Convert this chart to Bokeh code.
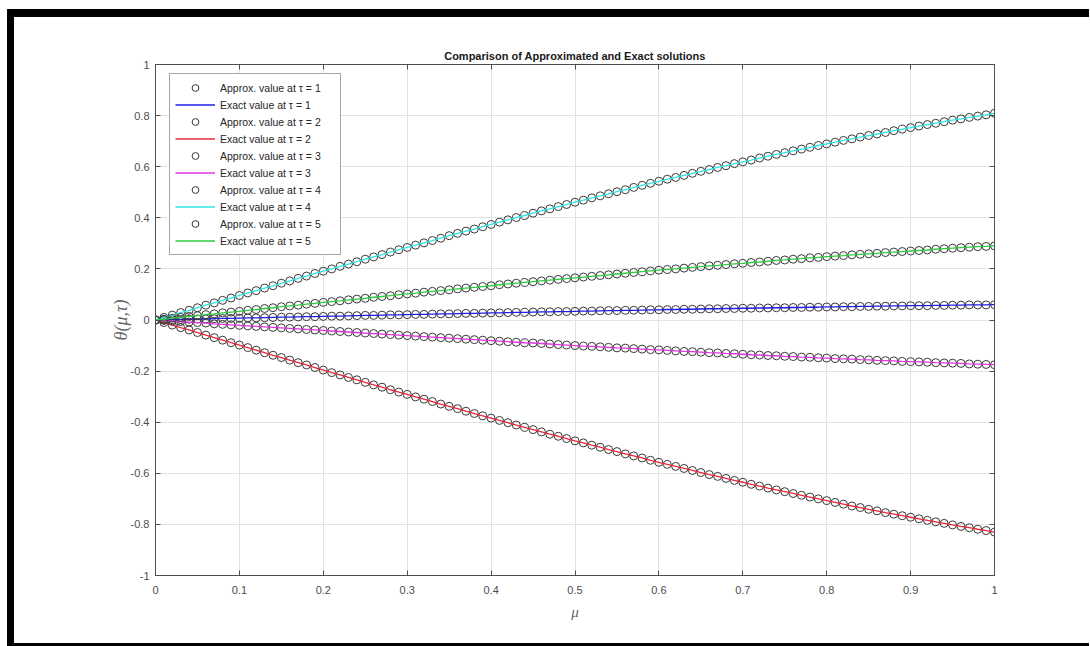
from bokeh.plotting import figure
from bokeh.models import (Range1d, FixedTicker, LinearAxis, Legend, LegendItem,
                          CustomJSTickFormatter, Div)
from bokeh.layouts import column, row
from bokeh.embed import file_html
from bokeh.resources import INLINE

# ---------------- data ----------------
mu = [i / 100 for i in range(101)]

theta_tau1 = [0, 0.001, 0.001, 0.002, 0.003, 0.004, 0.004, 0.005, 0.006, 0.006,
              0.007, 0.008, 0.008, 0.009, 0.010, 0.011, 0.011, 0.012, 0.013, 0.013,
              0.014, 0.015, 0.015, 0.016, 0.017, 0.018, 0.018, 0.019, 0.020, 0.020,
              0.021, 0.022, 0.022, 0.023, 0.024, 0.024, 0.025, 0.026, 0.026, 0.027,
              0.028, 0.028, 0.029, 0.030, 0.030, 0.031, 0.032, 0.032, 0.033, 0.033,
              0.034, 0.035, 0.035, 0.036, 0.037, 0.037, 0.038, 0.038, 0.039, 0.040,
              0.040, 0.041, 0.041, 0.042, 0.042, 0.043, 0.044, 0.044, 0.045, 0.045,
              0.046, 0.046, 0.047, 0.047, 0.048, 0.048, 0.049, 0.049, 0.050, 0.050,
              0.051, 0.051, 0.052, 0.052, 0.053, 0.053, 0.054, 0.054, 0.055, 0.055,
              0.056, 0.056, 0.056, 0.057, 0.057, 0.058, 0.058, 0.059, 0.059, 0.059,
              0.060]

theta_tau2 = [0, -0.010, -0.020, -0.030, -0.039, -0.049, -0.059, -0.069, -0.079, -0.089,
              -0.098, -0.108, -0.118, -0.128, -0.138, -0.147, -0.157, -0.167, -0.176, -0.186,
              -0.196, -0.206, -0.215, -0.225, -0.234, -0.244, -0.254, -0.263, -0.273, -0.282,
              -0.291, -0.301, -0.310, -0.319, -0.329, -0.338, -0.347, -0.357, -0.366, -0.375,
              -0.384, -0.393, -0.402, -0.411, -0.420, -0.429, -0.438, -0.447, -0.455, -0.464,
              -0.473, -0.481, -0.490, -0.498, -0.507, -0.515, -0.524, -0.532, -0.540, -0.549,
              -0.557, -0.565, -0.573, -0.581, -0.589, -0.597, -0.605, -0.612, -0.620, -0.628,
              -0.635, -0.643, -0.650, -0.658, -0.665, -0.672, -0.679, -0.686, -0.693, -0.700,
              -0.707, -0.714, -0.721, -0.728, -0.734, -0.741, -0.747, -0.754, -0.760, -0.766,
              -0.772, -0.778, -0.784, -0.790, -0.796, -0.802, -0.808, -0.813, -0.819, -0.824,
              -0.830]

theta_tau3 = [0, -0.002, -0.004, -0.006, -0.008, -0.010, -0.012, -0.015, -0.017, -0.019,
              -0.021, -0.023, -0.025, -0.027, -0.029, -0.031, -0.033, -0.035, -0.037, -0.039,
              -0.041, -0.043, -0.045, -0.047, -0.049, -0.051, -0.053, -0.055, -0.057, -0.059,
              -0.061, -0.063, -0.065, -0.067, -0.069, -0.071, -0.073, -0.075, -0.077, -0.079,
              -0.081, -0.083, -0.085, -0.087, -0.089, -0.090, -0.092, -0.094, -0.096, -0.098,
              -0.100, -0.102, -0.103, -0.105, -0.107, -0.109, -0.110, -0.112, -0.114, -0.116,
              -0.117, -0.119, -0.121, -0.123, -0.124, -0.126, -0.128, -0.129, -0.131, -0.132,
              -0.134, -0.136, -0.137, -0.139, -0.140, -0.142, -0.143, -0.145, -0.146, -0.148,
              -0.149, -0.151, -0.152, -0.153, -0.155, -0.156, -0.158, -0.159, -0.160, -0.162,
              -0.163, -0.164, -0.165, -0.167, -0.168, -0.169, -0.170, -0.172, -0.173, -0.174,
              -0.175]

theta_tau4 = [0, 0.010, 0.019, 0.029, 0.038, 0.048, 0.058, 0.067, 0.077, 0.086,
              0.096, 0.106, 0.115, 0.125, 0.134, 0.144, 0.153, 0.163, 0.172, 0.182,
              0.191, 0.200, 0.210, 0.219, 0.228, 0.238, 0.247, 0.256, 0.266, 0.275,
              0.284, 0.293, 0.302, 0.311, 0.320, 0.330, 0.339, 0.348, 0.356, 0.365,
              0.374, 0.383, 0.392, 0.401, 0.409, 0.418, 0.427, 0.435, 0.444, 0.452,
              0.461, 0.469, 0.478, 0.486, 0.494, 0.502, 0.510, 0.519, 0.527, 0.535,
              0.543, 0.551, 0.558, 0.566, 0.574, 0.582, 0.589, 0.597, 0.604, 0.612,
              0.619, 0.626, 0.634, 0.641, 0.648, 0.655, 0.662, 0.669, 0.676, 0.683,
              0.689, 0.696, 0.703, 0.709, 0.716, 0.722, 0.728, 0.734, 0.741, 0.747,
              0.753, 0.759, 0.765, 0.770, 0.776, 0.782, 0.787, 0.793, 0.798, 0.803,
              0.809]

theta_tau5 = [0, 0.003, 0.007, 0.010, 0.014, 0.017, 0.021, 0.024, 0.028, 0.031,
              0.034, 0.038, 0.041, 0.045, 0.048, 0.052, 0.055, 0.058, 0.062, 0.065,
              0.069, 0.072, 0.075, 0.079, 0.082, 0.085, 0.089, 0.092, 0.095, 0.099,
              0.102, 0.105, 0.109, 0.112, 0.115, 0.118, 0.122, 0.125, 0.128, 0.131,
              0.134, 0.138, 0.141, 0.144, 0.147, 0.150, 0.153, 0.156, 0.159, 0.162,
              0.165, 0.168, 0.171, 0.174, 0.177, 0.180, 0.183, 0.186, 0.189, 0.192,
              0.195, 0.198, 0.200, 0.203, 0.206, 0.209, 0.212, 0.214, 0.217, 0.220,
              0.222, 0.225, 0.227, 0.230, 0.233, 0.235, 0.238, 0.240, 0.243, 0.245,
              0.248, 0.250, 0.252, 0.255, 0.257, 0.259, 0.261, 0.264, 0.266, 0.268,
              0.270, 0.272, 0.274, 0.277, 0.279, 0.281, 0.283, 0.285, 0.287, 0.288,
              0.290]

tau_labels = ["1", "2", "3", "4", "5"]
series = [theta_tau1, theta_tau2, theta_tau3, theta_tau4, theta_tau5]
line_colors = ["#1f1fe6", "#e8283a", "#e033e0", "#2ee6e6", "#2ecc40"]

x_ticks = [0, 0.1, 0.2, 0.3, 0.4, 0.5, 0.6, 0.7, 0.8, 0.9, 1]
x_tick_labels = ["0", "0.1", "0.2", "0.3", "0.4", "0.5", "0.6", "0.7", "0.8", "0.9", "1"]
y_ticks = [-1, -0.8, -0.6, -0.4, -0.2, 0, 0.2, 0.4, 0.6, 0.8, 1]
y_tick_labels = ["-1", "-0.8", "-0.6", "-0.4", "-0.2", "0", "0.2", "0.4", "0.6", "0.8", "1"]

TITLE = "Comparison of Approximated and Exact solutions"
X_LABEL = "μ"
Y_LABEL = "θ(μ,τ)"

# ---------------- figure ----------------
PW, PH = 1075, 626
p = figure(width=PW, height=PH, output_backend="svg", toolbar_location=None,
           x_range=Range1d(0, 1), y_range=Range1d(-1, 1),
           min_border_left=141, min_border_right=95, min_border_top=47,
           min_border_bottom=68, title=TITLE, margin=0)
p.background_fill_color = "white"
p.border_fill_color = "white"
p.outline_line_color = "#4d4d4d"
p.outline_line_width = 1

p.title.align = "center"
p.title.text_font = "Liberation Sans"
p.title.text_font_size = "11px"
p.title.text_font_style = "bold"
p.title.text_color = "#1a1a1a"
p.title.standoff = 6

ax_color = "#4d4d4d"
tick_col = "#4d4d4d"

xa = p.xaxis[0]
ya = p.yaxis[0]
xa.ticker = FixedTicker(ticks=x_ticks)
ya.ticker = FixedTicker(ticks=y_ticks)
xa.major_label_overrides = {t: l for t, l in zip(x_ticks, x_tick_labels)}
ya.major_label_overrides = {t: l for t, l in zip(y_ticks, y_tick_labels)}
for ax in (xa, ya):
    ax.axis_line_color = ax_color
    ax.major_tick_line_color = ax_color
    ax.major_tick_in = 5
    ax.major_tick_out = 0
    ax.minor_tick_line_color = None
    ax.major_label_text_font = "Liberation Sans"
    ax.major_label_text_font_size = "11px"
    ax.major_label_text_color = tick_col
    ax.axis_label_text_font = "Liberation Serif"
    ax.axis_label_text_font_style = "italic"
    ax.axis_label_text_color = "#666666"
xa.axis_label_text_font_size = "15px"
ya.axis_label_text_font_size = "18px"
xa.major_label_standoff = 10
ya.major_label_standoff = 6
xa.axis_label = X_LABEL
ya.axis_label = Y_LABEL
xa.axis_label_standoff = 7
ya.axis_label_standoff = -3

# top and right tick marks (no labels)
blank = CustomJSTickFormatter(code="return ''")
top_ax = LinearAxis(ticker=FixedTicker(ticks=x_ticks), formatter=blank,
                    major_tick_in=5, major_tick_out=0, minor_tick_line_color=None,
                    axis_line_color=ax_color, major_tick_line_color=ax_color,
                    major_label_text_font_size="1px", major_label_standoff=0)
right_ax = LinearAxis(ticker=FixedTicker(ticks=y_ticks), formatter=blank,
                      major_tick_in=5, major_tick_out=0, minor_tick_line_color=None,
                      axis_line_color=ax_color, major_tick_line_color=ax_color,
                      major_label_text_font_size="1px", major_label_standoff=0)
p.add_layout(top_ax, "above")
p.add_layout(right_ax, "right")

p.xgrid.ticker = FixedTicker(ticks=x_ticks)
p.ygrid.ticker = FixedTicker(ticks=y_ticks)
p.grid.grid_line_color = "#e2e2e2"
p.grid.grid_line_width = 1

items = []
for tau, ys, col in zip(tau_labels, series, line_colors):
    r_m = p.scatter(mu, ys, marker="circle", size=8, fill_color=None,
                    line_color="#3a3a3a", line_width=1)
    r_l = p.line(mu, ys, line_color=col, line_width=1.3)
    items.append(LegendItem(label=f"Approx. value at τ = {tau}", renderers=[r_m]))
    items.append(LegendItem(label=f"Exact value at τ = {tau}", renderers=[r_l]))

legend = Legend(items=items, location=(14, 320), margin=0)
legend.label_text_font = "Liberation Sans"
legend.label_text_font_size = "10.5px"
legend.label_text_color = "#262626"
legend.label_height = 17
legend.label_width = 115
legend.glyph_height = 17
legend.glyph_width = 40
legend.spacing = 0
legend.padding = 5
legend.label_standoff = 5
legend.border_line_color = "#4d4d4d"
legend.border_line_width = 1
legend.background_fill_color = "white"
legend.background_fill_alpha = 1
p.add_layout(legend, "center")

# black picture frame (top, left and bottom bands) around the figure
BLACK = {"background-color": "black"}
gap_top = Div(text="", width=PW + 14, height=9, margin=0)
gap_left = Div(text="", width=7, height=PH + 11, margin=0)
band_top = Div(text="", width=PW + 7, height=8, styles=BLACK, margin=0)
band_left = Div(text="", width=7, height=PH, styles=BLACK, margin=0)
band_bottom = Div(text="", width=PW + 7, height=3, styles=BLACK, margin=0)
inner = column(band_top, row(band_left, p, spacing=0, margin=0), band_bottom,
               spacing=0, margin=0)
layout = column(gap_top, row(gap_left, inner, spacing=0, margin=0), spacing=0, margin=0)

open("out.html", "w").write(file_html(layout, INLINE))
